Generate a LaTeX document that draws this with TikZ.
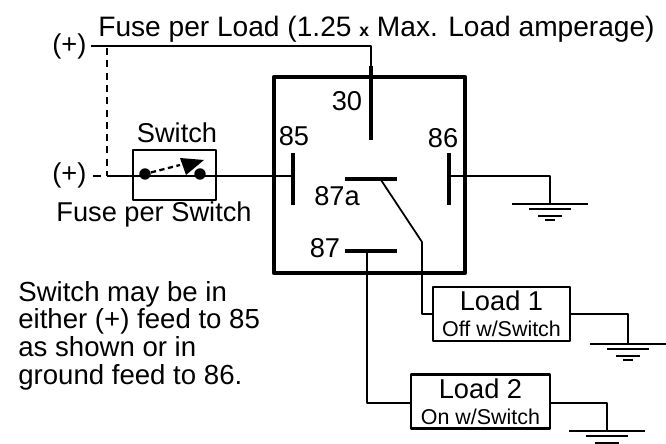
\documentclass[tikz,border=0pt]{standalone}
\usepackage{fontspec}
\setmainfont{Liberation Sans}
\tikzset{
	wire/.style={line width=1pt},
	bar/.style={line width=2.2pt},
	lbl/.style={inner sep=0pt,font=\fontsize{15.5}{15.5}\selectfont},
	loadbox/.style={draw,line width=1.2pt,inner sep=0pt,align=center,minimum height=54*0.2mm}
}
\begin{document}
\begin{tikzpicture}[x=0.2mm,y=-0.2mm,line join=round]
	\useasboundingbox (0,0) rectangle (666,444);
	% relay and switch boxes
	\node[draw,line width=2.4pt,inner sep=0pt,minimum width=191*0.2mm,minimum height=196*0.2mm] (relay) at (369.5,175) {};
	\node[draw,line width=1pt,inner sep=0pt,minimum width=83*0.2mm,minimum height=50*0.2mm] (switch) at (174.5,175) {};
	\node[loadbox,minimum width=137*0.2mm] (load1) at (501.5,314) {\fontsize{15.5}{17}\selectfont Load 1\\[3pt]\fontsize{12.2}{13}\selectfont Off w/Switch};
	\node[loadbox,minimum width=139*0.2mm] (load2) at (480.5,401.5) {\fontsize{15.5}{17}\selectfont Load 2\\[3pt]\fontsize{12.2}{13}\selectfont On w/Switch};
	% texts
	\node[lbl,anchor=west,font=\fontsize{16}{16}\selectfont] (fuseload) at (98,29) {Fuse per Load (1.25 {\fontsize{10}{10}\selectfont\bfseries x} Max. Load amperage)};
	\node[lbl,anchor=west] (plusA) at (52,46) {(+)};
	\node[lbl,anchor=west] (plusB) at (52,175) {(+)};
	\node[lbl] (switchlbl) at (177,133) {Switch};
	\node[lbl] (fuseswitch) at (154,214) {Fuse per Switch};
	\node[lbl] (n30) at (347,101) {30};
	\node[lbl] (n85) at (294,136) {85};
	\node[lbl] (n86) at (443,138) {86};
	\node[lbl] (n87a) at (337,196) {87a};
	\node[lbl] (n87) at (325,248) {87};
	\node[lbl,anchor=north west,align=left,font=\fontsize{15.7}{15.7}\selectfont] (note) at (18,281) {Switch may be in\\either (+) feed to 85\\as shown or in\\ground feed to 86.};
	% terminals
	\coordinate (c30) at (371,140);
	\coordinate (c85a) at (293,153);
	\coordinate (c85b) at (293,205);
	\coordinate (c85) at (293,176);
	\coordinate (c86a) at (449,153);
	\coordinate (c86b) at (449,205);
	\coordinate (c86) at (449,176);
	\coordinate (c87aL) at (345,179);
	\coordinate (c87aR) at (397,179);
	\coordinate (c87L) at (345,251);
	\coordinate (c87R) at (397,251);
	\coordinate (arm) at (381,180);
	\coordinate (hinge) at (422,242);
	\coordinate (tap87) at (367,251);
	\coordinate (corner1) at (422,314);
	\coordinate (corner2) at (367,403);
	\coordinate (top) at (371,46);
	\coordinate (feedA) at (91,46);
	\coordinate (feedB) at (93,176);
	\coordinate (jA) at (107,48);
	\coordinate (jB) at (107,176);
	\coordinate (gnd86) at (550,204);
	\coordinate (gnd1) at (628,344);
	\coordinate (gnd2) at (607,431);
	\coordinate (turn86) at (550,176);
	\coordinate (turn1) at (628,314);
	\coordinate (turn2) at (607,403);
	\draw[wire] (feedA) -- (top) -- (c30);
	\draw[wire,dashed,dash pattern=on 4pt off 3pt] (jA) -- (jB);
	\draw[wire] (feedB) -- ++(8,0) (jB) -- (c85);
	\draw[wire] (c86) -- (turn86) -- (gnd86);
	\draw[wire] (arm) -- (hinge) -- (corner1) -- (load1.west |- corner1);
	\draw[wire] (tap87) -- (corner2) -- (load2.west |- corner2);
	\draw[wire] (load1.east |- turn1) -- (turn1) -- (gnd1);
	\draw[wire] (load2.east |- turn2) -- (turn2) -- (gnd2);
	% contacts
	\draw[bar] (371,66) -- (c30) (c85a) -- (c85b) (c86a) -- (c86b) (c87aL) -- (c87aR) (c87L) -- (c87R);
	% switch
	\node[circle,fill,inner sep=0pt,minimum size=6.5pt] (swA) at (145,174) {};
	\node[circle,fill,inner sep=0pt,minimum size=6.5pt] (swB) at (200,174) {};
	\draw[line width=1.3pt,densely dashed] (swA) -- (180,165);
	\fill (180,158) -- (204,160) -- (186,175) -- cycle;
	% grounds
	\foreach \g in {gnd86,gnd1,gnd2}{
		\draw[wire] (\g) ++(-38,0) -- ++(76,0);
		\draw[line width=1.3pt] (\g) ++(-21,5) -- ++(42,0);
		\draw[wire] (\g) ++(-12,12) -- ++(24,0);
		\draw[wire] (\g) ++(-5,16) -- ++(10,0);
	}
\end{tikzpicture}
\end{document}
